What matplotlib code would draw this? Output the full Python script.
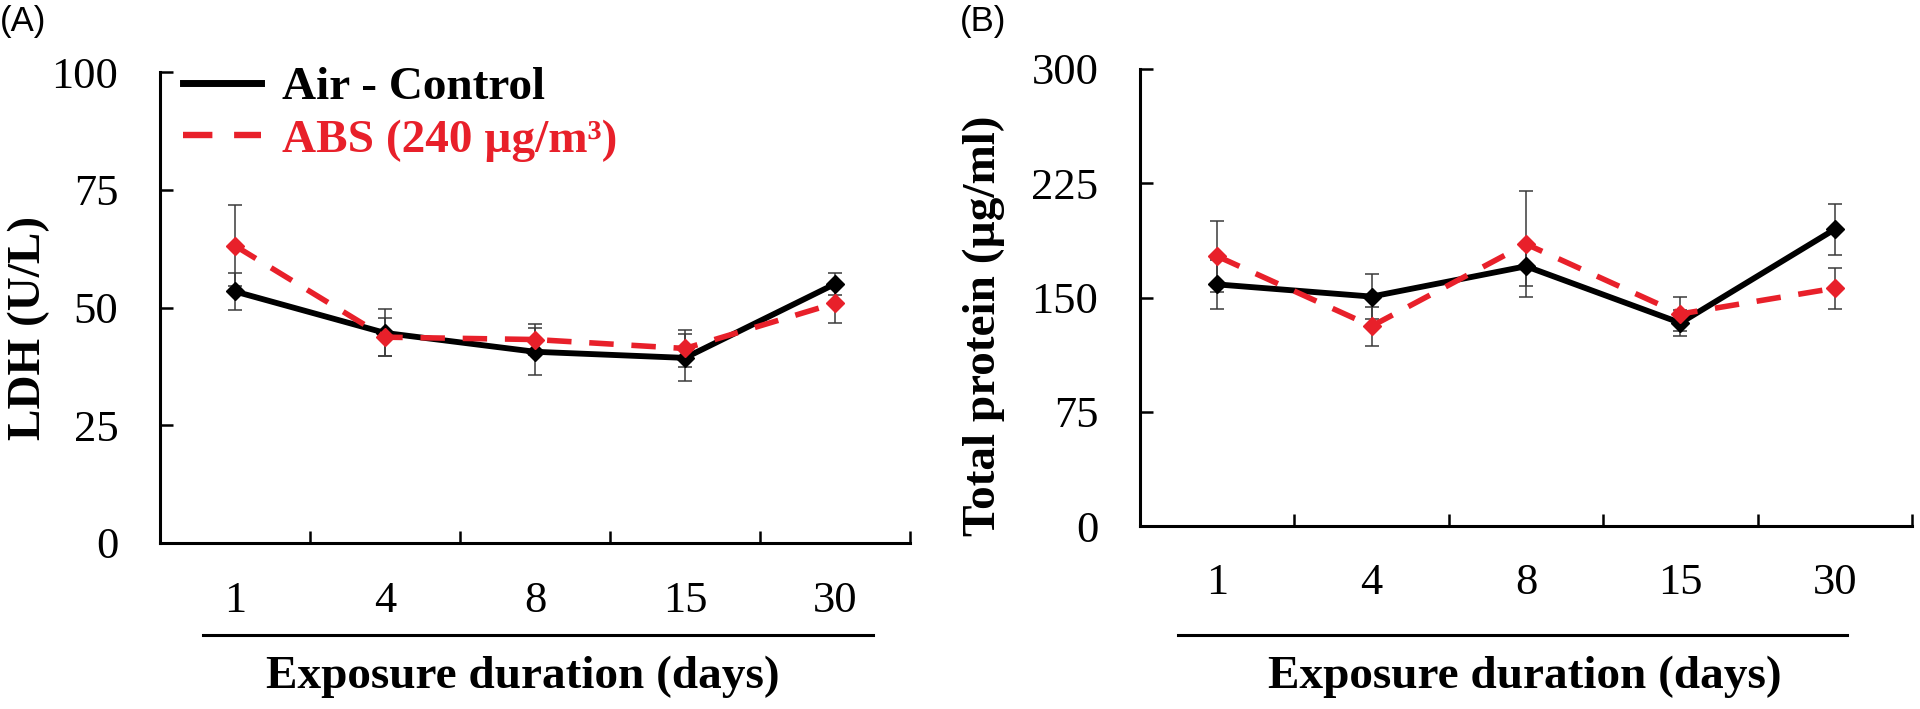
import matplotlib
matplotlib.use('Agg')
import matplotlib.pyplot as plt
from matplotlib.lines import Line2D

days = ['1', '4', '8', '15', '30']

# panel A - LDH (U/L)
ldh_air = [53.4, 44.6, 40.6, 39.3, 55.0]
ldh_air_err = [4.0, 5.0, 5.0, 5.0, 2.3]
ldh_abs = [63.1, 43.7, 43.2, 41.3, 50.9]
ldh_abs_err = [8.6, 4.0, 3.3, 4.0, 4.2]

# panel B - total protein (ug/ml)
prot_air = [158.6, 150.6, 170.5, 133.3, 194.8]
prot_air_err = [16.0, 14.6, 13.0, 8.5, 16.8]
prot_abs = [177.1, 131.2, 185.1, 139.2, 156.1]
prot_abs_err = [23.4, 12.8, 35.0, 11.0, 13.5]

RED = '#e8202a'
SERIF = 'Liberation Serif'
W, H = 1920, 709

fig = plt.figure(figsize=(19.2, 7.09), dpi=100)


def panel(rect, air, air_err, abs_, abs_err, ymax, ystep):
    ax = fig.add_axes(rect)
    x = range(len(days))
    ax.errorbar(x, air, yerr=air_err, fmt='none', ecolor='#3a3a3a',
                elinewidth=1.1, capsize=5, capthick=1.1, zorder=2)
    ax.errorbar(x, abs_, yerr=abs_err, fmt='none', ecolor='#3a3a3a',
                elinewidth=1.1, capsize=5, capthick=1.1, zorder=2)
    ax.plot(x, air, color='black', lw=4.2, marker='D', ms=9, zorder=3)
    ax.plot(x, abs_, color=RED, lw=4.0, ls=(0, (4.4, 3.2)), marker='D', ms=9,
            zorder=4)
    ax.set_xlim(-0.5, len(days) - 0.5)
    ax.set_ylim(0, ymax)
    ax.set_yticks(range(0, ymax + 1, ystep))
    ax.set_xticks(list(x))
    ax.set_xticklabels(days)
    ax.set_xticks([i + 0.5 for i in x], minor=True)
    ax.tick_params(axis='x', which='major', length=0, pad=27, labelsize=32)
    ax.tick_params(axis='x', which='minor', direction='in', length=9, width=1.8)
    ax.tick_params(axis='y', direction='in', length=9, width=1.8, pad=30,
                   labelsize=32)
    for lab in ax.get_xticklabels() + ax.get_yticklabels():
        lab.set_family(SERIF)
    for s in ['top', 'right']:
        ax.spines[s].set_visible(False)
    for s in ['left', 'bottom']:
        ax.spines[s].set_linewidth(2.2)
    return ax


axA = panel([160 / W, 1 - 543 / H, 750 / W, 471 / H],
            ldh_air, ldh_air_err, ldh_abs, ldh_abs_err, 100, 25)
axB = panel([1140 / W, 1 - 526 / H, 772 / W, 457 / H],
            prot_air, prot_air_err, prot_abs, prot_abs_err, 300, 75)

# underline below the day labels
axA.plot([-0.213, 4.253], [-0.195, -0.195], color='black', lw=2.2,
         transform=axA.get_xaxis_transform(), clip_on=False)
axB.plot([-0.254, 4.079], [-0.2385, -0.2385], color='black', lw=2.2,
         transform=axB.get_xaxis_transform(), clip_on=False)

for cx in [523, 1525]:
    fig.text(cx / W, 1 - 677 / H, 'Exposure duration (days)', ha='center',
             va='center', family=SERIF, weight='bold', fontsize=34)

fig.text(29 / W, 1 - 328 / H, 'LDH (U/L)', rotation=90, ha='center',
         va='center', family=SERIF, weight='bold', fontsize=34)
fig.text(984 / W, 1 - 326 / H, 'Total protein (µg/ml)', rotation=90,
         ha='center', va='center', family=SERIF, weight='bold', fontsize=34)

fig.text(0 / W, 1 - 22 / H, '(A)', ha='left', va='center',
         family='Liberation Sans', fontsize=25)
fig.text(960 / W, 1 - 22 / H, '(B)', ha='left', va='center',
         family='Liberation Sans', fontsize=25)

handles = [Line2D([], [], color='black', lw=5.0),
           Line2D([], [], color=RED, lw=4.6, ls=(0, (4.6, 3.4)))]
leg = axA.legend(handles, ['Air - Control', 'ABS (240 µg/m³)'],
                 loc='upper left', bbox_to_anchor=(183 / W, 1 - 66 / H),
                 bbox_transform=fig.transFigure, frameon=False, borderpad=0,
                 borderaxespad=0, handlelength=1.65, handletextpad=0.45,
                 labelspacing=0.2, prop={'family': SERIF, 'weight': 'bold',
                                         'size': 34})
leg.get_texts()[1].set_color(RED)

fig.savefig('out.png', dpi=100)
